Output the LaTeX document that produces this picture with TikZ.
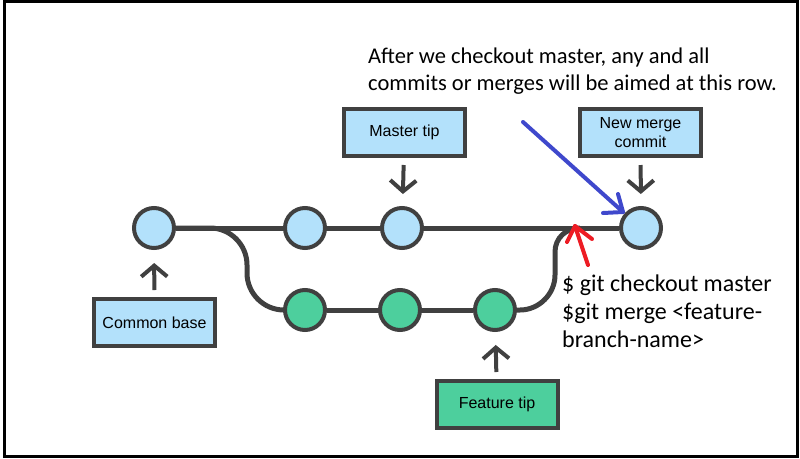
\documentclass[tikz,border=0pt]{standalone}
\usepackage{fontspec}
\setmainfont{Carlito}
\newfontfamily\boxfont{Liberation Sans}
\usetikzlibrary{arrows.meta,backgrounds}
\definecolor{lineg}{HTML}{404040}
\definecolor{mblue}{HTML}{B3E1FB}
\definecolor{fgreen}{HTML}{4DCF9D}
\definecolor{penblue}{HTML}{3F48CC}
\definecolor{penred}{HTML}{ED1C24}
\tikzset{
  commit/.style={circle,draw=lineg,line width=4pt,minimum size=40pt,inner sep=0pt},
  mcommit/.style={commit,fill=mblue},
  fcommit/.style={commit,fill=fgreen},
  label box/.style={rectangle,draw=lineg,line width=4pt,minimum width=121pt,minimum height=47pt,
     inner sep=0pt,align=center,font=\boxfont\fontsize{16}{18.5}\selectfont},
  mbox/.style={label box,fill=mblue},
  fbox/.style={label box,fill=fgreen},
  branch/.style={draw=lineg,line width=5pt},
  pointer/.style={draw=lineg,line width=4pt,-{Straight Barb[length=11pt,width=26pt]}},
  pen/.style={line width=4pt,line cap=round,line join=round},
  note/.style={align=left,inner sep=0pt,anchor=base west}
}
\begin{document}
\begin{tikzpicture}[x=1pt,y=-1pt]
\useasboundingbox (0,0) rectangle (800,458);
\draw[line width=3pt] (4.5,1) rectangle (797.5,456);

% commits
\node[mcommit] (c0) at (154,228) {};
\node[mcommit] (m1) at (305,228) {};
\node[mcommit] (m2) at (402,228) {};
\node[mcommit] (mn) at (641,228) {};
\node[fcommit] (f1) at (305,310) {};
\node[fcommit] (f2) at (400,310) {};
\node[fcommit] (f3) at (495,310) {};

% branch lines
\begin{scope}[on background layer]
\draw[branch] (c0) -- (mn);
\draw[branch] (c0.east) -- (210,228) .. controls (230.4,228) and (247,244.6) .. (247,265)
   -- (247,273) .. controls (247,293.4) and (263.6,310) .. (284,310) -- (f1);
\draw[branch] (f1) -- (f3);
\draw[branch] (f3.east) -- (520,310) .. controls (539,310) and (555,294) .. (555,275)
   -- (555,252) .. controls (555,238) and (566,228) .. (580,228);
\end{scope}

% label boxes
\node[mbox] (bmaster) at (404.5,132.5) {Master tip};
\node[mbox] (bnew) at (640.5,132.5) {New merge\\commit};
\node[mbox] (bbase) at (154.5,322.5) {Common base};
\node[fbox] (bfeat) at (497,404.5) {Feature tip};

\draw[pointer,shorten <=7pt,shorten >=12pt] (bmaster) -- (m2);
\draw[pointer,shorten <=7pt,shorten >=12pt] (bnew) -- (mn);
\draw[pointer,shorten <=7pt,shorten >=13pt] (bbase) -- (c0);
\draw[pointer,shorten <=7pt,shorten >=13pt] (bfeat) -- (f3);

% notes (anchored at the baseline of the last line)
\node[note,font=\fontsize{22.5}{27}\selectfont] (topnote) at (368,90)
  {After we checkout master, any and all\\commits or merges will be aimed at this row.};
\node[note,font=\fontsize{24}{28}\selectfont] (gitnote) at (562,347)
  {\$ git checkout master\\\$git merge <feature-\\branch-name>};

% hand-drawn arrows
\coordinate (bs) at (523,122);
\coordinate (bt) at (623,212);
\draw[pen,draw=penblue] (bs) -- (bt);
\draw[pen,draw=penblue] (618,194) -- (bt) -- (603,213);
\coordinate (rs) at (588,265);
\coordinate (rt) at (575,226);
\draw[pen,draw=penred] (rs) -- (rt);
\draw[pen,draw=penred] (592,239) -- (rt) -- (567,242);
\end{tikzpicture}
\end{document}
